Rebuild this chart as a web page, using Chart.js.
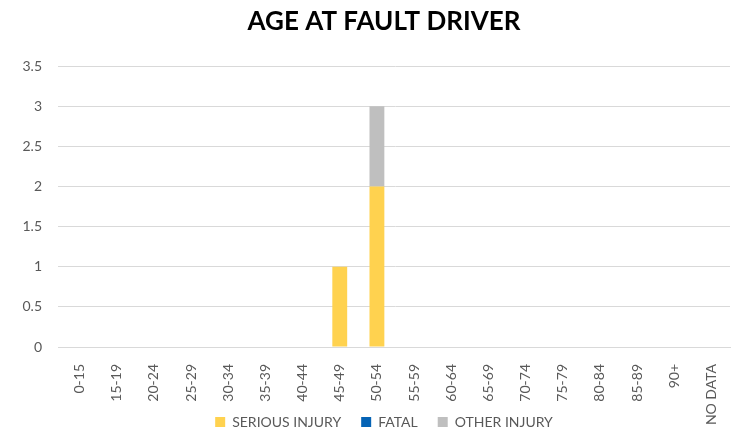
<!DOCTYPE html>
<html>
<head>
<meta charset="utf-8">
<script src="https://cdn.jsdelivr.net/npm/chart.js@4"></script>
<style>
	html, body { margin: 0; padding: 0; background: #fff; }
	#wrap { width: 738px; height: 432px; }
</style>
</head>
<body>
<div id="wrap"><canvas id="myChart" width="738" height="432"></canvas></div>
<script>
// age bands along the x axis
const ageBands = ['0-15', '15-19', '20-24', '25-29', '30-34', '35-39', '40-44', '45-49', '50-54',
	'55-59', '60-64', '65-69', '70-74', '75-79', '80-84', '85-89', '90+', 'NO DATA'];

// counts per band, one array per injury type
const seriousInjury = [0, 0, 0, 0, 0, 0, 0, 1, 2, 0, 0, 0, 0, 0, 0, 0, 0, 0];
const fatal = [0, 0, 0, 0, 0, 0, 0, 0, 0, 0, 0, 0, 0, 0, 0, 0, 0, 0];
const otherInjury = [0, 0, 0, 0, 0, 0, 0, 0, 1, 0, 0, 0, 0, 0, 0, 0, 0, 0];

const yMax = 3.5;
const yStep = 0.5;

const textColor = '#595959';
const fontFamily = 'Lato, "Open Sans", sans-serif';

function makeSet (label, data, color) {
	return {
		label: label,
		data: data,
		backgroundColor: color,
		borderColor: color,
		borderWidth: 0,
		categoryPercentage: 0.8,
		barPercentage: 0.5
	};
}

// legend sits a bit lower than chart.js would put it, and title + legend
// are centred a little right of the canvas middle in the original
const boxTweaks = {
	id: 'boxTweaks',
	beforeInit (chart) {
		const fit = chart.legend.fit;
		chart.legend.fit = function () {
			fit.call(this);
			this.height = 37;
		};
	},
	afterLayout (chart) {
		const shift = 19;
		for (const box of [chart.legend, chart.titleBlock]) {
			if (!box) continue;
			box.left += shift;
			box.right += shift;
		}
	}
};

const config = {
	type: 'bar',
	data: {
		labels: ageBands,
		datasets: [
			makeSet('SERIOUS INJURY', seriousInjury, '#FFD24F'),
			makeSet('FATAL', fatal, '#0563B5'),
			makeSet('OTHER INJURY', otherInjury, '#BFBFBF')
		]
	},
	options: {
		responsive: false,
		animation: false,
		layout: { padding: { left: 0, right: 8, top: 0, bottom: 0 } },
		plugins: {
			title: {
				display: true,
				text: 'AGE AT FAULT DRIVER',
				color: '#000',
				font: { family: fontFamily, size: 26, weight: 'bold' },
				padding: { top: 6, bottom: 29 }
			},
			legend: {
				position: 'bottom',
				labels: {
					color: textColor,
					boxWidth: 10,
					boxHeight: 10,
					padding: 20,
					font: { family: fontFamily, size: 14 }
				}
			},
			tooltip: { enabled: false }
		},
		scales: {
			x: {
				stacked: true,
				grid: { display: false },
				border: { display: true, color: '#d9d9d9' },
				ticks: {
					color: textColor,
					font: { family: fontFamily, size: 14 },
					minRotation: 90,
					maxRotation: 90,
					autoSkip: false,
					padding: 9
				},
				afterFit: (scale) => {
					scale.height = 48;
					// let the long labels run past the axis box, as in the original
					scale._computeLabelArea = () => undefined;
				}
			},
			y: {
				stacked: true,
				min: 0,
				max: yMax,
				grid: { color: '#d9d9d9', lineWidth: 1, tickLength: 3, drawTicks: true },
				border: { display: false },
				ticks: {
					stepSize: yStep,
					color: textColor,
					font: { family: fontFamily, size: 14 },
					padding: 16,
					callback: (v) => String(v)
				},
				afterFit: (scale) => { scale.width = 61; }
			}
		}
	},
	plugins: [boxTweaks]
};

new Chart(document.getElementById('myChart'), config);
</script>
</body>
</html>
